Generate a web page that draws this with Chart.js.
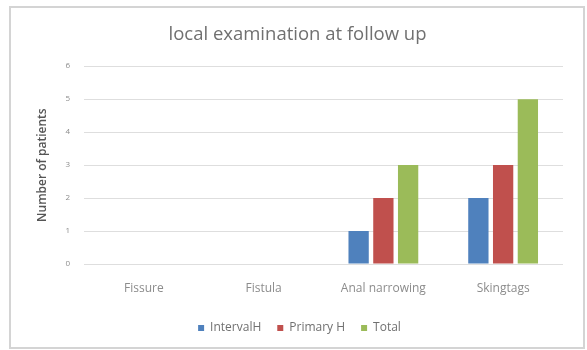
<!DOCTYPE html>
<html>
<head>
<meta charset="utf-8">
<script src="https://cdn.jsdelivr.net/npm/chart.js@4"></script>
<style>
    html, body { margin: 0; padding: 0; background: #ffffff; overflow: hidden; }
    #wrap { position: relative; width: 587px; height: 350px; overflow: hidden; }
    #frame {
        position: absolute; left: 9px; top: 6px; width: 576px; height: 343px;
        border: 2px solid #d4d4d4; box-sizing: border-box; pointer-events: none;
    }
</style>
</head>
<body>
<div id="wrap">
    <canvas id="grafica" width="587" height="350"></canvas>
    <div id="frame"></div>
</div>
<script>
// categorias y series
const categorias = ["Fissure", "Fistula", "Anal narrowing", "Skingtags"];
const intervalH = [0, 0, 1, 2];
const primaryH = [0, 0, 2, 3];
const total = [0, 0, 3, 5];
const ticksY = [0, 1, 2, 3, 4, 5, 6];

const fuente = "'Open Sans', 'DejaVu Sans', sans-serif";

// centra titulo y leyenda respecto al marco completo, no al area con padding
const centrarCajas = {
    id: "centrarCajas",
    afterLayout(chart) {
        const desplazar = (caja, dx) => {
            if (!caja) return;
            caja.left += dx;
            caja.right += dx;
        };
        desplazar(chart.titleBlock, 11);
        desplazar(chart.legend, 13);
    },
};

window.onload = function () {
    let ctx = document.getElementById("grafica").getContext("2d");

    new Chart(ctx, {
        type: "bar",
        data: {
            labels: categorias,
            datasets: [
                { label: "IntervalH", data: intervalH, backgroundColor: "#4f81bd" },
                { label: "Primary H", data: primaryH, backgroundColor: "#c0504d" },
                { label: "Total", data: total, backgroundColor: "#9bbb59" },
            ],
        },
        plugins: [centrarCajas],
        options: {
            responsive: false,
            animation: false,
            devicePixelRatio: 1,
            layout: {
                padding: { left: 10, right: 24, top: 7, bottom: 6 },
            },
            datasets: {
                bar: { categoryPercentage: 0.62, barPercentage: 0.82, borderWidth: 0 },
            },
            plugins: {
                title: {
                    display: true,
                    text: "local examination at follow up",
                    color: "#707070",
                    font: { family: fuente, size: 18.5, weight: "normal" },
                    padding: { top: 17, bottom: 20 },
                },
                legend: {
                    position: "bottom",
                    labels: {
                        boxWidth: 6,
                        boxHeight: 6,
                        padding: 16,
                        color: "#707070",
                        font: { family: fuente, size: 12 },
                    },
                },
                tooltip: { enabled: false },
            },
            scales: {
                x: {
                    grid: { display: false, drawTicks: false },
                    border: { display: false },
                    ticks: {
                        color: "#8c8c8c",
                        padding: 17,
                        font: { family: fuente, size: 12 },
                    },
                    afterFit: function (scale) {
                        scale.height = 42;
                    },
                },
                y: {
                    min: 0,
                    max: 6,
                    afterBuildTicks: function (scale) {
                        scale.ticks = ticksY.map((v) => ({ value: v }));
                    },
                    grid: { color: "#dedede", lineWidth: 1, drawTicks: false },
                    border: { display: false },
                    ticks: {
                        color: "#8c8c8c",
                        padding: 14,
                        font: { family: fuente, size: 8 },
                    },
                    title: {
                        display: true,
                        text: "Number of patients",
                        color: "#555555",
                        font: { family: fuente, size: 12, weight: "600" },
                        padding: { top: 25, bottom: 0 },
                    },
                    afterFit: function (scale) {
                        scale.width = 74;
                    },
                },
            },
        },
    });
};
</script>
</body>
</html>
